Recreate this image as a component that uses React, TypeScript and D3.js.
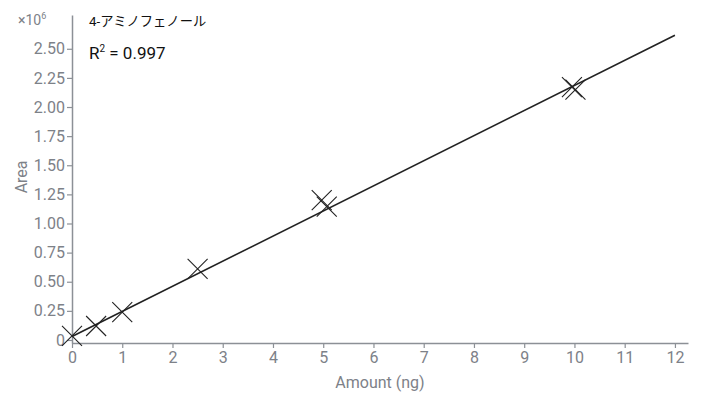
import React, { useRef, useEffect } from "react";
import * as d3 from "d3";

// calibration points (amount in ng, peak area)
const amounts = [0, 0.48, 1, 2.5, 4.97, 5.07, 9.95, 10.02];
const areas = [35000, 120000, 240000, 610000, 1200000, 1145000, 2170000, 2150000];

// fitted line
const fitSlope = 215500;
const fitIntercept = 30000;
const fitRange = [0, 12];

const xTicks = [0, 1, 2, 3, 4, 5, 6, 7, 8, 9, 10, 11, 12];
const yTicks = [0, 250000, 500000, 750000, 1000000, 1250000, 1500000, 1750000, 2000000, 2250000, 2500000];

const compound = "4-アミノフェノール";
const rSquared = "0.997";

const axisColor = "#8c9096";
const labelColor = "#7d8188";
const font = "Roboto, 'Noto Sans CJK JP', sans-serif";

const App = () => {
  const ref = useRef<SVGSVGElement>(null);

  useEffect(() => {
    const svg = d3.select(ref.current);
    svg.selectAll("*").remove();

    const x = d3.scaleLinear().domain([0, 12.26]).range([72, 688]);
    const y = d3.scaleLinear().domain([-26000, 2790000]).range([343, 15]);

    const xAxis = svg
      .append("g")
      .attr("transform", `translate(0,${y(-26000)})`)
      .call(d3.axisBottom(x).tickValues(xTicks).tickSize(5).tickSizeOuter(0).tickPadding(4));

    const yAxis = svg
      .append("g")
      .attr("transform", `translate(${x(0)},0)`)
      .call(
        d3
          .axisLeft(y)
          .tickValues(yTicks)
          .tickSize(5)
          .tickSizeOuter(0)
          .tickPadding(2)
          .tickFormat((d) => (+d === 0 ? "0" : d3.format(".2f")(+d / 1e6)))
      );

    [xAxis, yAxis].forEach((a) => {
      a.select(".domain").attr("stroke", axisColor).attr("stroke-width", 1.5);
      a.selectAll(".tick line").attr("stroke", axisColor).attr("stroke-width", 1.2);
      a.selectAll(".tick text")
        .attr("fill", labelColor)
        .attr("font-family", font)
        .attr("font-size", 16);
    });

    // fit line
    const line = d3
      .line<number>()
      .x((d) => x(d))
      .y((d) => y(fitSlope * d + fitIntercept));
    svg
      .append("path")
      .datum(fitRange)
      .attr("fill", "none")
      .attr("stroke", "#222")
      .attr("stroke-width", 1.6)
      .attr("d", line);

    // cross markers
    const s = 10;
    const pts = amounts.map((a, i) => [a, areas[i]]);
    const marks = svg.append("g").attr("stroke", "#222").attr("stroke-width", 1.1);
    pts.forEach(([a, v]) => {
      const cx = x(a);
      const cy = y(v);
      marks
        .append("path")
        .attr("d", `M${cx - s},${cy - s}L${cx + s},${cy + s}M${cx - s},${cy + s}L${cx + s},${cy - s}`);
    });

    // texts
    svg
      .append("text")
      .attr("x", 18)
      .attr("y", 25)
      .attr("fill", labelColor)
      .attr("font-family", font)
      .attr("font-size", 14)
      .text("×10")
      .append("tspan")
      .attr("font-size", 9)
      .attr("dy", -6)
      .text("6");

    svg
      .append("text")
      .attr("transform", `translate(27,${y(1400000)}) rotate(-90)`)
      .attr("text-anchor", "middle")
      .attr("fill", labelColor)
      .attr("font-family", font)
      .attr("font-size", 16)
      .text("Area");

    svg
      .append("text")
      .attr("x", 380)
      .attr("y", 388)
      .attr("text-anchor", "middle")
      .attr("fill", labelColor)
      .attr("font-family", font)
      .attr("font-size", 16)
      .text("Amount (ng)");

    svg
      .append("text")
      .attr("x", 89)
      .attr("y", 26)
      .attr("fill", "#111")
      .attr("font-family", font)
      .attr("font-size", 13.3)
      .text(compound);

    const r = svg
      .append("text")
      .attr("x", 89)
      .attr("y", 59)
      .attr("fill", "#111")
      .attr("font-family", font)
      .attr("font-size", 17)
      .text("R");
    r.append("tspan").attr("font-size", 10).attr("dy", -7).text("2");
    r.append("tspan").attr("dy", 7).text(` = ${rSquared}`);
  }, []);

  return (
    <svg
      ref={ref}
      width={704}
      height={396}
      style={{ position: "absolute", left: 0, top: 0, background: "#fff" }}
    ></svg>
  );
};

export default App;
